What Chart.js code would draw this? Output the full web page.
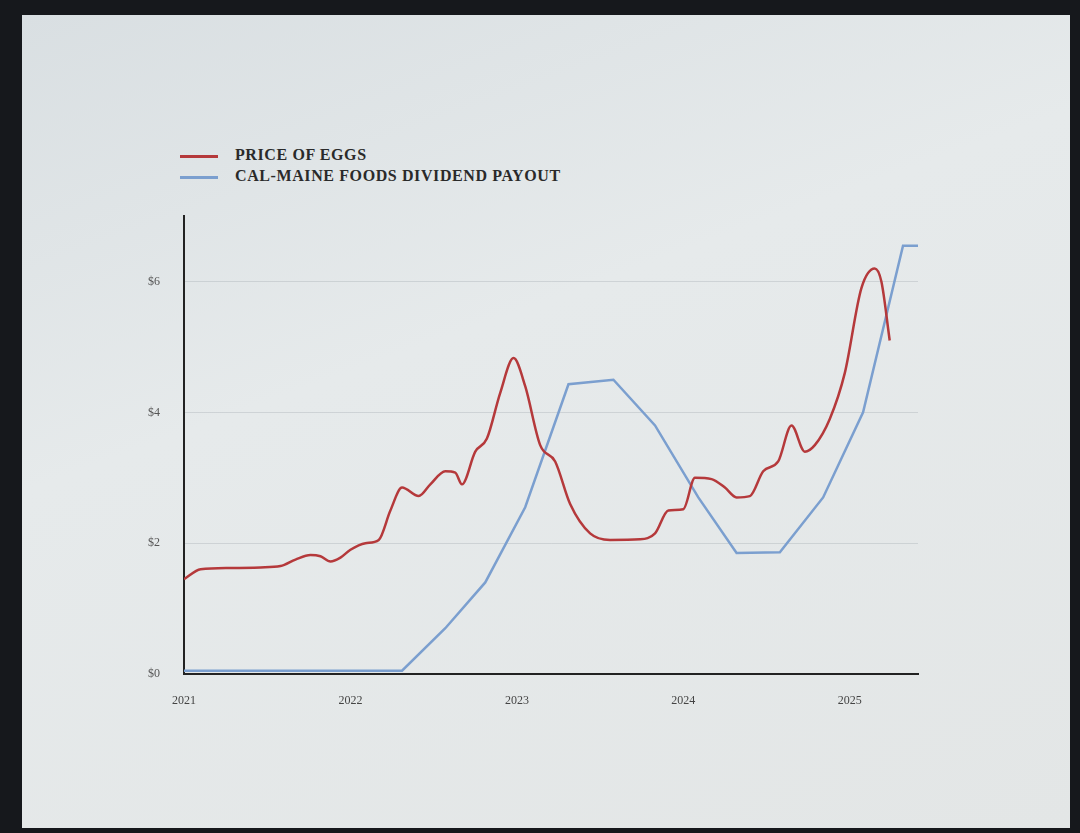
<!DOCTYPE html>
<html><head><meta charset="utf-8">
<script src="https://cdn.jsdelivr.net/npm/chart.js@4/dist/chart.umd.min.js"></script>
<style>
body{margin:0;width:1080px;height:833px;background:#16181c;overflow:hidden;font-family:"Liberation Serif",serif}
#panel{position:absolute;left:22px;top:15px;width:1048px;height:813px;background:linear-gradient(160deg,#d9dfe2 0%,#e6eaeb 40%,#e3e6e6 100%)}
#wrap{position:absolute;left:100px;top:185px;width:840px;height:530px}
.leg{position:absolute;left:180px;font-weight:bold;font-size:16px;color:#2a2a2a;letter-spacing:0.6px}
.leg span{display:inline-block;width:38px;height:3px;vertical-align:middle;margin-right:17px}
</style></head><body>
<div id="panel"></div>
<div class="leg" style="top:146px"><span style="background:#b5393b"></span>PRICE OF EGGS</div>
<div class="leg" style="top:167px"><span style="background:#7b9fcf"></span>CAL-MAINE FOODS DIVIDEND PAYOUT</div>
<div id="wrap"><canvas id="c"></canvas></div>
<script>
const eggYears=[2021.00,2021.10,2021.28,2021.46,2021.58,2021.67,2021.76,2021.82,2021.88,2021.94,2022.00,2022.09,2022.17,2022.24,2022.31,2022.41,2022.48,2022.57,2022.63,2022.67,2022.75,2022.82,2022.90,2022.98,2023.05,2023.14,2023.23,2023.32,2023.44,2023.56,2023.74,2023.83,2023.91,2024.00,2024.07,2024.17,2024.25,2024.32,2024.40,2024.48,2024.57,2024.65,2024.73,2024.79,2024.88,2024.97,2025.07,2025.15,2025.19,2025.24];
const eggPrice=[1.45,1.6,1.62,1.63,1.65,1.75,1.82,1.8,1.72,1.78,1.9,2.0,2.05,2.5,2.85,2.72,2.9,3.1,3.08,2.9,3.4,3.6,4.3,4.83,4.4,3.5,3.25,2.6,2.15,2.05,2.06,2.15,2.5,2.52,3.0,2.98,2.85,2.7,2.72,3.1,3.25,3.8,3.4,3.5,3.9,4.6,5.9,6.2,6.0,5.1];
const divYears=[2021.0,2022.31,2022.57,2022.81,2023.05,2023.31,2023.58,2023.83,2024.09,2024.32,2024.58,2024.84,2025.08,2025.32,2025.41];
const divPayout=[0.05,0.05,0.7,1.4,2.55,4.43,4.5,3.8,2.7,1.85,1.86,2.7,4.0,6.55,6.55];
const yTicks=[0,2,4,6];
const toXY=(xs,ys)=>xs.map((x,i)=>({x,y:ys[i]}));
new Chart(document.getElementById('c'),{type:'line',
data:{datasets:[
{data:toXY(eggYears,eggPrice),borderColor:'#b5393b',borderWidth:2.5,pointRadius:0,cubicInterpolationMode:'monotone'},
{data:toXY(divYears,divPayout),borderColor:'#7b9fcf',borderWidth:2.5,pointRadius:0,tension:0}]},
options:{responsive:true,maintainAspectRatio:false,animation:false,
layout:{padding:{top:10,right:22,left:0,bottom:0}},
plugins:{legend:{display:false},tooltip:{enabled:false}},
scales:{
x:{type:'linear',min:2021,max:2025.41,afterBuildTicks:a=>{a.ticks=[2021,2022,2023,2024,2025].map(v=>({value:v}))},
 afterFit:a=>{a.height=41},grid:{display:false},border:{color:'#222',width:2},
 ticks:{padding:12,color:'#444',font:{family:'Liberation Serif',size:12},callback:v=>String(v)}},
y:{min:0,max:7,afterBuildTicks:a=>{a.ticks=yTicks.map(v=>({value:v}))},afterFit:a=>{a.width=84},
 grid:{color:c=>c.tick.value===0?'rgba(0,0,0,0)':'rgba(160,170,175,0.35)',drawTicks:false},border:{color:'#222',width:2},
 ticks:{padding:24,color:'#555',font:{family:'Liberation Serif',size:12},callback:v=>'$'+v}}}}});
</script></body></html>
